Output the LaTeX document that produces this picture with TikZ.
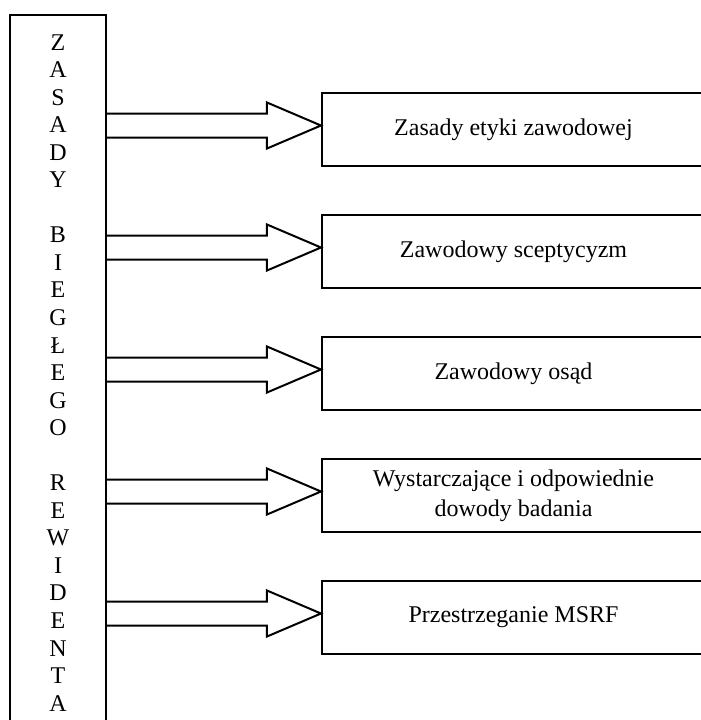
\documentclass[tikz,border=0pt]{standalone}
\usepackage{fontspec}
\setmainfont{Liberation Serif}
\usetikzlibrary{positioning}

\begin{document}
\begin{tikzpicture}[x=0.5pt,y=-0.5pt,
  every node/.style={font=\fontsize{12}{15}\selectfont},
  zbox/.style={rectangle,draw,line width=1pt,minimum width=191.5pt,minimum height=36.5pt,align=center,inner sep=2pt},
  blok/.style={line width=1pt,line join=miter}]
  \useasboundingbox (0,0) rectangle (701,720);
  \node[rectangle,draw,line width=1pt,anchor=north,minimum width=48pt,minimum height=360pt] (zasady) at (58,14) {};
  \node[anchor=north,align=center,inner sep=0pt,font=\fontsize{12}{13.77}\selectfont] (litery) at (58,34)
    {Z\\A\\S\\A\\D\\Y\\[13.77pt]B\\I\\E\\G\\Ł\\E\\G\\O\\[13.77pt]R\\E\\W\\I\\D\\E\\N\\T\\A};
  \node[zbox] (etyka) at (513.5,129.5) {Zasady etyki zawodowej};
  \node[zbox,below=23.5pt of etyka] (sceptycyzm) {Zawodowy sceptycyzm};
  \node[zbox,below=23.5pt of sceptycyzm] (osad) {Zawodowy osąd};
  \node[zbox,below=23.5pt of osad] (dowody) {Wystarczające i odpowiednie\\dowody badania};
  \node[zbox,below=23.5pt of dowody] (msrf) {Przestrzeganie MSRF};
  \foreach \b in {etyka,sceptycyzm,osad,dowody,msrf}{
    \path ([yshift=2pt]\b.west) coordinate (grot) ++(-27pt,6pt) coordinate (gora) ++(0,-12pt) coordinate (dol);
    \draw[blok] (zasady.east |- gora) -- (gora) -- ++(0,5.5pt) -- (grot) -- ++(-27pt,-11.5pt) -- ++(0,5.5pt) -- (zasady.east |- dol);
  }
\end{tikzpicture}
\end{document}
